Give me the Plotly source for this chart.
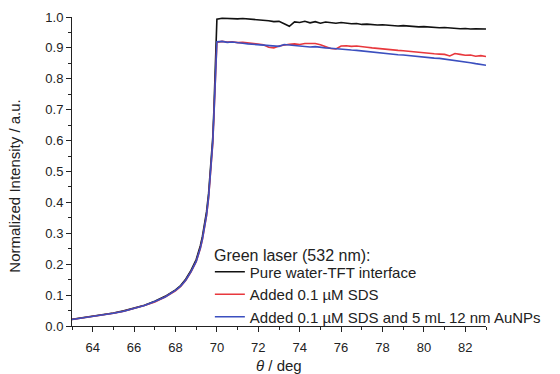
import plotly.graph_objects as go

theta = [63, 63.5, 64, 64.5, 65, 65.5, 66, 66.5, 67, 67.5, 68, 68.25, 68.5, 68.75, 69,
         69.1, 69.2, 69.3, 69.4, 69.5, 69.6, 69.7, 69.8, 69.85, 69.9, 69.95, 70.0,
         70.25, 70.5, 70.75, 71, 71.25, 71.5, 71.75, 72, 72.25, 72.5, 72.75, 73,
         73.25, 73.5, 73.75, 74, 74.25, 74.5, 74.75, 75, 75.25, 75.5, 75.75, 76,
         76.25, 76.5, 76.75, 77, 77.25, 77.5, 77.75, 78, 78.25, 78.5, 78.75, 79,
         79.25, 79.5, 79.75, 80, 80.25, 80.5, 80.75, 81, 81.25, 81.5, 81.75, 82,
         82.25, 82.5, 82.75, 83]

pure_water = [0.022, 0.027, 0.031, 0.036, 0.042, 0.049, 0.057, 0.067, 0.080, 0.096, 0.117,
              0.131, 0.152, 0.180, 0.215, 0.235, 0.260, 0.290, 0.325, 0.370, 0.430, 0.510,
              0.610, 0.690, 0.790, 0.900, 0.993,
              0.996, 0.995, 0.996, 0.994, 0.995, 0.994, 0.993, 0.992, 0.990, 0.988, 0.985, 0.986,
              0.978, 0.970, 0.984, 0.982, 0.986, 0.981, 0.985, 0.980, 0.984, 0.981, 0.980, 0.982,
              0.979, 0.978, 0.979, 0.976, 0.977, 0.975, 0.974, 0.975, 0.973, 0.972, 0.971, 0.972,
              0.970, 0.969, 0.968, 0.969, 0.967, 0.966, 0.965, 0.966, 0.964, 0.963, 0.962, 0.963,
              0.961, 0.962, 0.961, 0.961]

sds = [0.021, 0.026, 0.030, 0.035, 0.041, 0.048, 0.056, 0.066, 0.078, 0.094, 0.114,
       0.128, 0.148, 0.175, 0.208, 0.227, 0.251, 0.280, 0.314, 0.357, 0.415, 0.493,
       0.590, 0.668, 0.765, 0.875, 0.918,
       0.921, 0.919, 0.920, 0.917, 0.918, 0.916, 0.915, 0.914, 0.910, 0.902, 0.900, 0.906,
       0.910, 0.912, 0.913, 0.911, 0.914, 0.913, 0.914, 0.910, 0.905, 0.898, 0.897, 0.906,
       0.907, 0.905, 0.906, 0.903, 0.902, 0.900, 0.898, 0.897, 0.895, 0.894, 0.892, 0.891,
       0.889, 0.888, 0.886, 0.884, 0.883, 0.881, 0.880, 0.879, 0.874, 0.882, 0.879, 0.876,
       0.877, 0.873, 0.875, 0.872]

sds_aunps = [0.021, 0.026, 0.030, 0.035, 0.041, 0.048, 0.056, 0.066, 0.079, 0.094, 0.115,
             0.129, 0.149, 0.176, 0.209, 0.228, 0.252, 0.281, 0.316, 0.359, 0.418, 0.497,
             0.595, 0.672, 0.770, 0.880, 0.920,
             0.921, 0.918, 0.919, 0.916, 0.915, 0.913, 0.912, 0.910, 0.909, 0.908, 0.907, 0.905,
             0.911, 0.909, 0.907, 0.906, 0.905, 0.903, 0.904, 0.901, 0.900, 0.899, 0.897, 0.896,
             0.895, 0.893, 0.892, 0.890, 0.888, 0.887, 0.885, 0.883, 0.882, 0.880, 0.878, 0.877,
             0.875, 0.874, 0.872, 0.870, 0.869, 0.867, 0.866, 0.864, 0.862, 0.859, 0.857, 0.854,
             0.852, 0.849, 0.847, 0.844]

names = ["Pure water-TFT interface",
         "Added 0.1 µM SDS",
         "Added 0.1 µM SDS and 5 mL 12 nm AuNPs"]
legend_title = "Green laser (532 nm):"
x_title = "<i>θ</i> / deg"
y_title = "Normalized Intensity / a.u."
colors = ["#111111", "#e8383d", "#3b4fbf"]
series = [pure_water, sds, sds_aunps]

x_ticks = [64, 66, 68, 70, 72, 74, 76, 78, 80, 82]
y_ticks = [0.0, 0.1, 0.2, 0.3, 0.4, 0.5, 0.6, 0.7, 0.8, 0.9, 1.0]

fig = go.Figure()
for name, col, ys in zip(names, colors, series):
    fig.add_trace(go.Scatter(x=theta, y=ys, mode="lines", name=name,
                             line=dict(color=col, width=1.6)))

font = "Liberation Sans, Arial, sans-serif"
fig.update_layout(
    width=560, height=374,
    margin=dict(l=72, r=74, t=17, b=48),
    plot_bgcolor="white", paper_bgcolor="white",
    font=dict(family=font, size=13, color="#222"),
    legend=dict(font=dict(size=15), x=0.333, y=0.228, xanchor="left", yanchor="top",
                bgcolor="rgba(0,0,0,0)", tracegroupgap=0, itemwidth=30),
    xaxis=dict(range=[63, 83], tickvals=x_ticks, ticks="outside", ticklen=5,
               tickcolor="#222", linecolor="#222", linewidth=1, showline=True,
               showgrid=False, zeroline=False, mirror=False, automargin=False,
               ticklabelstandoff=4,
               minor=dict(dtick=1, ticks="outside", ticklen=3, tickcolor="#222")),
    yaxis=dict(range=[0, 1.0], tickvals=y_ticks, tickformat=".1f", ticks="outside",
               ticklen=5, tickcolor="#222", linecolor="#222", linewidth=1, showline=True,
               showgrid=False, zeroline=False, automargin=False,
               minor=dict(dtick=0.05, ticks="outside", ticklen=3, tickcolor="#222")),
    annotations=[
        dict(text=legend_title, xref="paper", yref="paper", x=0.338, y=0.228,
             xanchor="left", yanchor="middle", showarrow=False, font=dict(size=16)),
        dict(text=x_title, xref="paper", yref="paper", x=0.5, y=-0.127,
             xanchor="center", yanchor="middle", showarrow=False, font=dict(size=15)),
        dict(text=y_title, xref="paper", yref="paper", x=-0.141, y=0.453,
             xanchor="center", yanchor="middle", textangle=-90, showarrow=False,
             font=dict(size=15)),
    ],
)
fig.write_html("out.html")
